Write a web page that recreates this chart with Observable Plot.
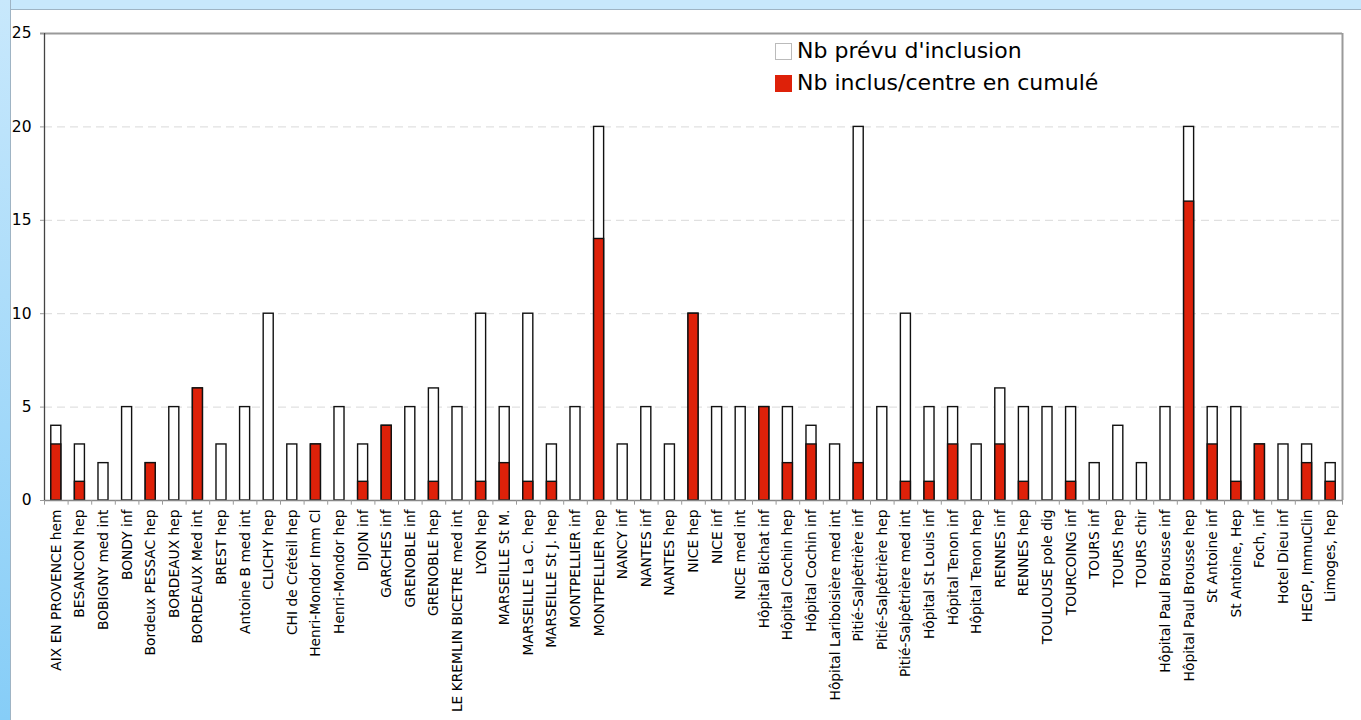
<!DOCTYPE html>
<html>
<head>
<meta charset="utf-8">
<script src="https://cdn.jsdelivr.net/npm/d3@7"></script>
<script src="https://cdn.jsdelivr.net/npm/@observablehq/plot@0.6"></script>
<style>
  html, body { margin: 0; padding: 0; }
  body { width: 1361px; height: 720px; overflow: hidden; background: #fff; font-family: "DejaVu Sans", Verdana, sans-serif; }
  #wrap { position: relative; width: 1361px; height: 720px; }
  #topband { position: absolute; left: 0; top: 0; width: 1361px; height: 9px; background: #c8e8fc; border-bottom: 1px solid #9fb4c4; }
  #leftband { position: absolute; left: 0; top: 0; width: 10px; height: 720px; background: linear-gradient(#c8e8fc, #86cdf7); border-right: 1px solid #9fb4c4; }
  #chart { position: absolute; left: 0; top: 0; }
  #legend { position: absolute; left: 775px; top: 35px; font-size: 22px; color: #000; line-height: 32px; }
  .li { display: flex; align-items: center; height: 32px; }
  .sw { width: 17px; height: 17px; margin-right: 5px; box-sizing: border-box; }
</style>
</head>
<body>
<div id="wrap">
  <div id="topband"></div>
  <div id="leftband"></div>
  <div id="chart"></div>
  <div id="legend"></div>
</div>
<script>
const categories = [
  "AIX EN PROVENCE hem", "BESANCON hep", "BOBIGNY med int", "BONDY inf", "Bordeux PESSAC hep",
  "BORDEAUX hep", "BORDEAUX Med int", "BREST hep", "Antoine B med int", "CLICHY hep",
  "CHI de Créteil hep", "Henri-Mondor Imm Cl", "Henri-Mondor hep", "DIJON inf", "GARCHES inf",
  "GRENOBLE inf", "GRENOBLE hep", "LE KREMLIN BICETRE med int", "LYON hep", "MARSEILLE St M.",
  "MARSEILLE La C. hep", "MARSEILLE St J. hep", "MONTPELLIER inf", "MONTPELLIER hep", "NANCY inf",
  "NANTES inf", "NANTES hep", "NICE hep", "NICE inf", "NICE med int",
  "Hôpital Bichat inf", "Hôpital Cochin hep", "Hôpital Cochin inf", "Hôpital Lariboisière med int", "Pitié-Salpêtrière inf",
  "Pitié-Salpêtrière hep", "Pitié-Salpêtrière med int", "Hôpital St Louis inf", "Hôpital Tenon inf", "Hôpital Tenon hep",
  "RENNES inf", "RENNES hep", "TOULOUSE pole dig", "TOURCOING inf", "TOURS inf",
  "TOURS hep", "TOURS chir", "Hôpital Paul Brousse inf", "Hôpital Paul Brousse hep", "St Antoine inf",
  "St Antoine, Hep", "Foch, inf", "Hotel Dieu inf", "HEGP, ImmuClin", "Limoges, hep"
];
const prevu = [
  4, 3, 2, 5, 2,
  5, 6, 3, 5, 10,
  3, 3, 5, 3, 4,
  5, 6, 5, 10, 5,
  10, 3, 5, 20, 3,
  5, 3, 10, 5, 5,
  5, 5, 4, 3, 20,
  5, 10, 5, 5, 3,
  6, 5, 5, 5, 2,
  4, 2, 5, 20, 5,
  5, 3, 3, 3, 2
];
const inclus = [
  3, 1, 0, 0, 2,
  0, 6, 0, 0, 0,
  0, 3, 0, 1, 4,
  0, 1, 0, 1, 2,
  1, 1, 0, 14, 0,
  0, 0, 10, 0, 0,
  5, 2, 3, 0, 2,
  0, 1, 1, 3, 0,
  3, 1, 0, 1, 0,
  0, 0, 0, 16, 3,
  1, 3, 0, 2, 1
];
const seriesNames = ["Nb prévu d'inclusion", "Nb inclus/centre en cumulé"];
const yTicks = [0, 5, 10, 15, 20, 25];

const red = "#de2109";
const data = categories.map((c, i) => ({name: c, prevu: prevu[i], inclus: inclus[i]}));

const W = 1361, H = 720, mL = 44, mR = 19, mT = 33, mB = 220;
const step = (W - mL - mR) / categories.length;

const plot = Plot.plot({
  width: W,
  height: H,
  marginLeft: mL,
  marginRight: mR,
  marginTop: mT,
  marginBottom: mB,
  style: {fontFamily: "'DejaVu Sans', Verdana, sans-serif", background: "transparent", color: "#000"},
  x: {domain: categories, paddingInner: 0.575, paddingOuter: 0.2875},
  y: {domain: [0, 25]},
  marks: [
    Plot.ruleY(yTicks.filter(d => d > 0 && d < 25), {stroke: "#d9d9d9", strokeDasharray: "8,5", strokeWidth: 1}),
    Plot.ruleY([25], {stroke: "#9a9a9a", strokeWidth: 2, insetLeft: -4}),
    Plot.ruleX([categories[categories.length - 1]], {dx: step / 2, stroke: "#9a9a9a", strokeWidth: 2}),
    Plot.barY(data, {x: "name", y: "prevu", fill: "white", stroke: "#111", strokeWidth: 1.4}),
    Plot.barY(data.filter(d => d.inclus > 0), {x: "name", y: "inclus", fill: red, stroke: "#111", strokeWidth: 1.4}),
    Plot.ruleY([0], {stroke: "#888", strokeWidth: 1.5}),
    Plot.ruleX(categories, {dx: -step / 2, y1: 0, y2: -0.25, stroke: "#999"}),
    Plot.ruleX([categories[categories.length - 1]], {dx: step / 2, y1: 0, y2: -0.25, stroke: "#999"}),
    Plot.ruleX([categories[0]], {dx: -step / 2, stroke: "#444", strokeWidth: 1.3}),
    Plot.axisY({ticks: yTicks, tickSize: 4, tickPadding: 9, fontSize: 15.5, stroke: "#999", tickFormat: d => d}),
    Plot.axisX({tickSize: 0, tickPadding: 9, tickRotate: -90, fontSize: 13.8, label: null})
  ]
});
document.getElementById("chart").appendChild(plot);

const legend = document.getElementById("legend");
const swFill = ["#fff", red];
const swStroke = ["#bbb", red];
seriesNames.forEach((n, i) => {
  const row = document.createElement("div");
  row.className = "li";
  const sw = document.createElement("div");
  sw.className = "sw";
  sw.style.background = swFill[i];
  sw.style.border = "1px solid " + swStroke[i];
  const t = document.createElement("span");
  t.textContent = n;
  row.appendChild(sw);
  row.appendChild(t);
  legend.appendChild(row);
});
</script>
</body>
</html>
